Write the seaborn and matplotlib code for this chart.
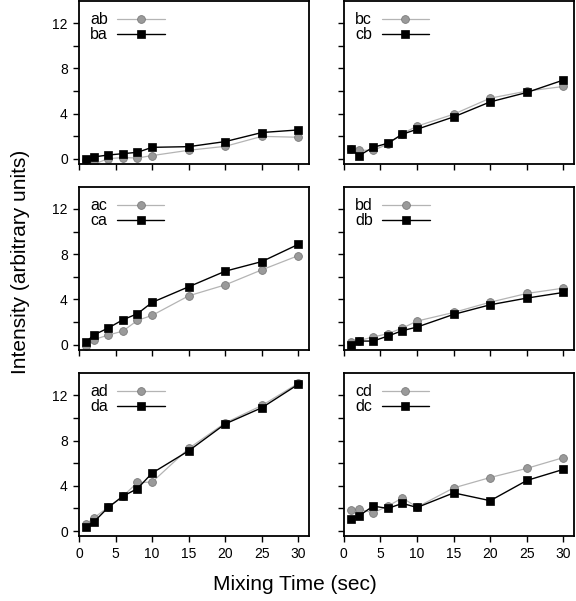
import matplotlib
matplotlib.use("Agg")
import matplotlib.pyplot as plt
import seaborn as sns
import pandas as pd

sns.set_theme(style="ticks")
plt.rcParams['font.family'] = ['Liberation Sans', 'DejaVu Sans']
plt.rcParams['text.color'] = 'black'
plt.rcParams['axes.labelcolor'] = 'black'
plt.rcParams['xtick.color'] = 'black'
plt.rcParams['ytick.color'] = 'black'

times = [1, 2, 4, 6, 8, 10, 15, 20, 25, 30]

ab = [-0.05, -0.47, 0.03, 0.12, 0.09, 0.30, 0.77, 1.12, 2.00, 1.92]
ba = [0.03, 0.18, 0.35, 0.47, 0.59, 1.03, 1.09, 1.54, 2.34, 2.57]
bc = [0.90, 0.77, 0.77, 1.30, 2.25, 2.90, 3.96, 5.38, 6.00, 6.41]
cb = [0.92, 0.27, 1.03, 1.39, 2.19, 2.63, 3.72, 5.05, 5.88, 6.98]
ac = [-0.10, 0.44, 0.85, 1.20, 2.15, 2.59, 4.32, 5.29, 6.62, 7.88]
ca = [0.24, 0.85, 1.47, 2.20, 2.74, 3.74, 5.12, 6.50, 7.35, 8.88]
bd = [0.24, 0.35, 0.68, 0.97, 1.47, 2.09, 2.85, 3.76, 4.53, 5.00]
db = [-0.06, 0.32, 0.32, 0.76, 1.24, 1.56, 2.68, 3.53, 4.12, 4.62]
ad = [0.63, 1.13, 2.11, 3.07, 4.29, 4.32, 7.30, 9.56, 11.10, 13.07]
da = [0.36, 0.77, 2.08, 3.07, 3.75, 5.12, 7.09, 9.47, 10.90, 12.98]
cd = [1.82, 1.94, 1.61, 2.20, 2.92, 2.11, 3.81, 4.73, 5.54, 6.49]
dc = [1.10, 1.31, 2.20, 2.00, 2.44, 2.08, 3.37, 2.68, 4.47, 5.45]

panels = [
    (("ab", ab), ("ba", ba)),
    (("bc", bc), ("cb", cb)),
    (("ac", ac), ("ca", ca)),
    (("bd", bd), ("db", db)),
    (("ad", ad), ("da", da)),
    (("cd", cd), ("dc", dc)),
]

x_ticks = [0, 5, 10, 15, 20, 25, 30]
y_ticks = [0, 2, 4, 6, 8, 10, 12]
y_labels = ["0", "", "4", "", "8", "", "12"]

fig = plt.figure(figsize=(5.76, 6.01), dpi=100)
lefts = [0.137, 0.597]
bottoms = [0.727, 0.418, 0.108]
w, h = 0.399, 0.271

for i, ((n1, v1), (n2, v2)) in enumerate(panels):
    r, c = divmod(i, 2)
    ax = fig.add_axes([lefts[c], bottoms[r], w, h])
    d1 = pd.DataFrame({"t": times, "v": v1})
    d2 = pd.DataFrame({"t": times, "v": v2})
    sns.lineplot(data=d1, x="t", y="v", ax=ax, color="#b4b4b4", lw=0.9,
                 marker="o", markersize=5.6, markerfacecolor="#9a9a9a",
                 markeredgecolor="#7a7a7a", markeredgewidth=0.6, label=n1)
    sns.lineplot(data=d2, x="t", y="v", ax=ax, color="black", lw=1.0,
                 marker="s", markersize=5.2, markerfacecolor="black",
                 markeredgecolor="black", markeredgewidth=0.5, label=n2)
    ax.set_xlim(0, 31.4)
    ax.set_ylim(-0.45, 13.95)
    ax.set_xticks(x_ticks)
    ax.set_yticks(y_ticks)
    if c == 0:
        ax.set_yticklabels(y_labels)
    else:
        ax.set_yticklabels([])
    if r == 2:
        ax.set_xticklabels([str(t) for t in x_ticks])
    else:
        ax.set_xticklabels([])
    ax.set_xlabel("")
    ax.set_ylabel("")
    ax.tick_params(direction="out", length=4, width=1.0, labelsize=10,
                   color="black", labelcolor="black", pad=4)
    for s in ax.spines.values():
        s.set_visible(True)
        s.set_linewidth(1.3)
        s.set_color("black")
    leg = ax.legend(loc="upper left", frameon=False, markerfirst=False,
                    handlelength=3.0, handletextpad=0.6, labelspacing=0.0,
                    borderaxespad=0.3, borderpad=0.4, fontsize=11.5)
    for t in leg.get_texts():
        t.set_color("black")

fig.text(0.512, 0.027, "Mixing Time (sec)", ha="center", va="center",
         fontsize=15, color="black")
fig.text(0.035, 0.564, "Intensity (arbitrary units)", ha="center", va="center",
         rotation=90, fontsize=15, color="black")

fig.savefig("out.png", dpi=100)
